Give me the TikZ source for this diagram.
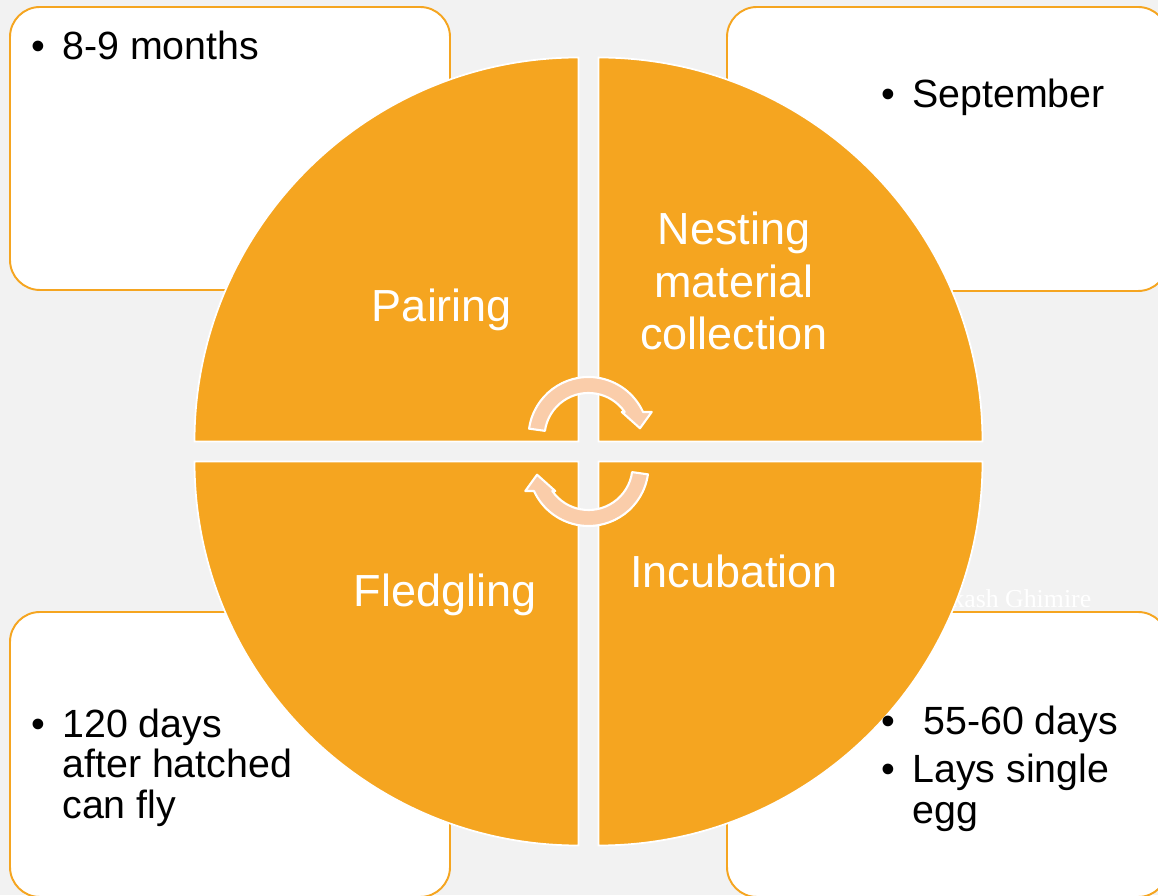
\documentclass[tikz,border=0pt]{standalone}
\usepackage{fontspec}
\setmainfont{Liberation Sans}
\newfontfamily\markfont{Liberation Serif}
\usepackage{tikz}
\usetikzlibrary{positioning}
\definecolor{segorange}{HTML}{F5A520}
\definecolor{arrowpeach}{HTML}{FACDAA}
\definecolor{pagegray}{HTML}{F2F2F2}

\begin{document}
\begin{tikzpicture}[infobox/.style={draw=segorange, line width=1.1pt,
  fill=white, rounded corners=0.6cm}, quarter/.style={fill=segorange,
  draw=white, line width=1pt}, phase/.style={text=white, align=center,
  inner sep=0pt, anchor=base, font=\fontsize{25.6}{30}\selectfont},
  note/.style={align=left, inner sep=0pt, anchor=base west,
  font=\fontsize{22.4}{23}\selectfont}, turn/.style={fill=arrowpeach,
  draw=white, line width=1.2pt, line join=round}]

\useasboundingbox[fill=pagegray] (0,0) rectangle (23.16,17.9);

\draw[infobox] (0.2,12.1) rectangle (9.0,17.76);
\draw[infobox] (14.54,12.08) rectangle (23.36,17.76);
\draw[infobox] (0.2,-0.04) rectangle (9.0,5.66);
\draw[infobox] (14.54,-0.04) rectangle (23.36,5.66);

\node (mark) at (19.02,5.74) [anchor=base west, inner sep=0pt, text=white,
  font=\markfont\fontsize{14.7}{16}\selectfont] {kash Ghimire};

% four quarter discs around the middle
\path[quarter] (11.57,9.07) -- ++(-7.68,0) arc[start angle=180, end angle=90, radius=7.68] -- cycle;
\path[quarter] (11.97,9.07) -- ++(0,7.68) arc[start angle=90, end angle=0, radius=7.68] -- cycle;
\path[quarter] (11.97,8.67) -- ++(7.68,0) arc[start angle=0, end angle=-90, radius=7.68] -- cycle;
\path[quarter] (11.57,8.67) -- ++(0,-7.68) arc[start angle=-90, end angle=-180, radius=7.68] -- cycle;

% the two turning arrows
\foreach \r in {0,180} {
\begin{scope}[shift={(11.77,8.87)}, rotate=\r, shift={(0,0.29)}]
\path[turn] (172:1.2) arc[start angle=172, end angle=24.6, radius=1.2]
  -- (21.6:1.36) -- (9.6:1.044) -- (37:0.832) -- (34.6:0.88)
  arc[start angle=34.6, end angle=172, radius=0.88] -- cycle;
\end{scope}
}

\node (pairing) at (8.84,11.47) [phase] {Pairing};
\node (nesting) at (14.68,10.9) [phase] {Nesting\\material\\collection};
\node (fledgling) at (8.90,5.77) [phase] {Fledgling};
\node (incubation) at (14.68,6.14) [phase] {Incubation};

\node (months) at (1.24,16.70) [note] {\llap{\textbullet\hspace{0.34cm}}8-9 months};
\node (september) at (18.24,15.74) [note] {\llap{\textbullet\hspace{0.34cm}}September};
\node (flying) at (1.24,1.54) [note] {\llap{\textbullet\hspace{0.34cm}}120 days\\after hatched\\can fly};
\node (eggs) at (18.24,1.44) [note] {\llap{\textbullet\hspace{0.34cm}}\hspace{0.22cm}55-60 days\\[0.16cm]\llap{\textbullet\hspace{0.34cm}}Lays single\\egg};

\end{tikzpicture}
\end{document}
